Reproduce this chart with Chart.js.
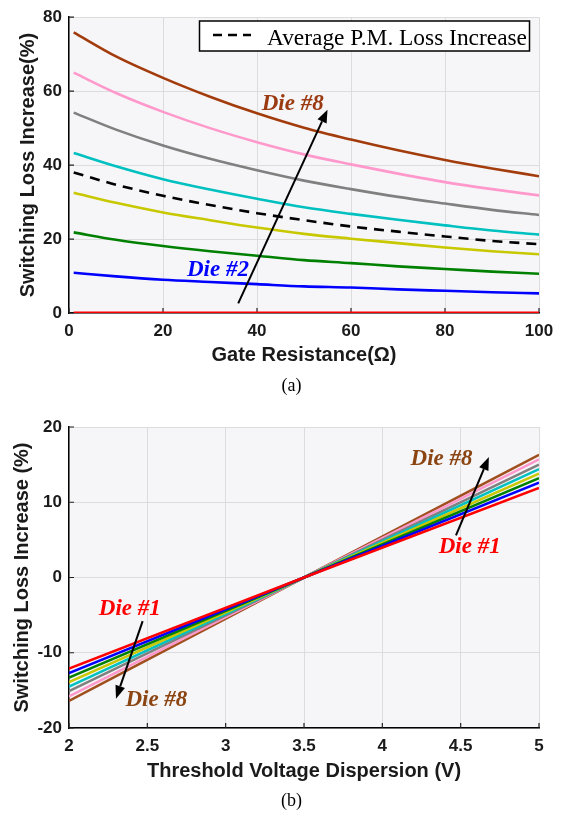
<!DOCTYPE html>
<html>
<head>
<meta charset="utf-8">
<script src="https://cdn.jsdelivr.net/npm/chart.js@4.4.0/dist/chart.umd.min.js"></script>
<style>
  body { margin: 0; background: #fff; width: 563px; height: 814px; position: relative; overflow: hidden; }
  .caja { position: absolute; left: 0; width: 563px; }
  #cajaA { top: 0; height: 400px; }
  #cajaB { top: 405px; height: 409px; }
  .pie { position: absolute; left: 0; width: 583px; text-align: center; line-height: 20px;
         font-family: "Liberation Serif", "Times New Roman", serif; font-size: 18px; color: #000; }
</style>
</head>
<body>
<div class="caja" id="cajaA"><canvas id="graficoResistencia"></canvas></div>
<div class="pie" style="top:375px">(a)</div>
<div class="caja" id="cajaB"><canvas id="graficoUmbral"></canvas></div>
<div class="pie" style="top:790px">(b)</div>
<script>
// (a) aumento de perdidas vs resistencia de puerta
const resistencia = [1, 10, 20, 30, 40, 50, 60, 70, 80, 90, 100];
const dado1 = [0, 0, 0, 0, 0, 0, 0, 0, 0, 0, 0];
const dado2 = [10.9, 9.9, 9.0, 8.4, 7.8, 7.2, 6.9, 6.4, 6.0, 5.6, 5.3];
const dado3 = [21.8, 19.8, 18.1, 16.7, 15.5, 14.3, 13.5, 12.6, 11.9, 11.2, 10.6];
const dado4 = [32.5, 29.8, 27.2, 25.1, 23.1, 21.4, 20.1, 18.9, 17.7, 16.7, 15.9];
const dado5 = [43.3, 39.7, 36.2, 33.4, 30.9, 28.6, 26.8, 25.2, 23.7, 22.3, 21.2];
const dado6 = [54.2, 49.6, 45.3, 41.7, 38.6, 35.8, 33.5, 31.4, 29.6, 27.9, 26.5];
const dado7 = [65.0, 59.5, 54.4, 50.0, 46.2, 42.9, 40.2, 37.7, 35.4, 33.5, 31.8];
const dado8 = [75.9, 69.4, 63.6, 58.5, 54.0, 50.1, 46.9, 44.0, 41.4, 39.1, 37.0];
const promedioPM = [38.0, 34.7, 31.7, 29.2, 27.0, 25.1, 23.4, 22.0, 20.7, 19.5, 18.6];
const ticksResistencia = [0, 20, 40, 60, 80, 100];
const ticksPerdidaA = [0, 20, 40, 60, 80];

// (b) aumento de perdidas vs dispersion de la tension umbral
const tensionUmbral = [2, 3.5, 5];
const umbral1 = [-12.1, 0, 11.9];
const umbral2 = [-12.7, 0, 12.6];
const umbral3 = [-13.3, 0, 13.2];
const umbral4 = [-13.9, 0, 13.8];
const umbral5 = [-14.5, 0, 14.4];
const umbral6 = [-15.1, 0, 15.0];
const umbral7 = [-15.8, 0, 15.7];
const umbral8 = [-16.4, 0, 16.3];
const ticksUmbral = [2, 2.5, 3, 3.5, 4, 4.5, 5];
const ticksPerdidaB = [-20, -10, 0, 10, 20];

const coloresA = ["#ff0000", "#0000ff", "#008000", "#c8c800", "#00c0c0", "#808080", "#ff99cc", "#a33c0c"];
const coloresB = ["#ff0000", "#0000ff", "#008000", "#c8c800", "#00c0c0", "#808080", "#ff99cc", "#a0501e"];

const fuenteEje = '"Liberation Sans", Arial, sans-serif';
const fuenteSerif = '"Liberation Serif", "Times New Roman", serif';

function puntos(xs, ys) {
  return ys.map((y, i) => ({ x: xs[i], y: y }));
}

function dibujarFlecha(ctx, x1, y1, x2, y2) {
  const ang = Math.atan2(y2 - y1, x2 - x1);
  const largo = 13, ancho = 5;
  ctx.strokeStyle = "#000";
  ctx.fillStyle = "#000";
  ctx.lineWidth = 2;
  ctx.setLineDash([]);
  ctx.beginPath();
  ctx.moveTo(x1, y1);
  ctx.lineTo(x2 - largo * Math.cos(ang), y2 - largo * Math.sin(ang));
  ctx.stroke();
  ctx.beginPath();
  ctx.moveTo(x2, y2);
  ctx.lineTo(x2 - largo * Math.cos(ang) + ancho * Math.sin(ang), y2 - largo * Math.sin(ang) - ancho * Math.cos(ang));
  ctx.lineTo(x2 - largo * Math.cos(ang) - ancho * Math.sin(ang), y2 - largo * Math.sin(ang) + ancho * Math.cos(ang));
  ctx.closePath();
  ctx.fill();
}

// fondo gris del area de trazado
const fondoPlugin = {
  id: "fondo",
  beforeDraw(chart) {
    const a = chart.chartArea;
    chart.ctx.save();
    chart.ctx.fillStyle = "#f6f6f8";
    chart.ctx.fillRect(a.left, a.top, a.right - a.left, a.bottom - a.top);
    chart.ctx.restore();
  }
};

// marcas cortas hacia dentro en los ejes izquierdo e inferior
const marcasPlugin = {
  id: "marcas",
  beforeDatasetsDraw(chart) {
    const ctx = chart.ctx, a = chart.chartArea;
    const sx = chart.scales.x, sy = chart.scales.y;
    ctx.save();
    ctx.strokeStyle = "#222";
    ctx.lineWidth = 1.2;
    ctx.beginPath();
    sx.ticks.forEach(t => {
      const px = sx.getPixelForValue(t.value);
      ctx.moveTo(px, a.bottom);
      ctx.lineTo(px, a.bottom - 5);
    });
    sy.ticks.forEach(t => {
      const py = sy.getPixelForValue(t.value);
      ctx.moveTo(a.left, py);
      ctx.lineTo(a.left + 5, py);
    });
    ctx.stroke();
    ctx.restore();
  }
};

// textos "Die #n" y flechas, en unidades de los ejes
function notasPlugin(notas, flechas) {
  return {
    id: "notas",
    afterDatasetsDraw(chart) {
      const ctx = chart.ctx;
      const sx = chart.scales.x, sy = chart.scales.y;
      ctx.save();
      flechas.forEach(f => {
        dibujarFlecha(ctx, sx.getPixelForValue(f.desde[0]), sy.getPixelForValue(f.desde[1]),
          sx.getPixelForValue(f.hasta[0]), sy.getPixelForValue(f.hasta[1]));
      });
      ctx.font = "italic bold 23px " + fuenteSerif;
      ctx.textBaseline = "middle";
      ctx.textAlign = "left";
      notas.forEach(n => {
        ctx.fillStyle = n.color;
        ctx.fillText(n.texto, sx.getPixelForValue(n.x), sy.getPixelForValue(n.y));
      });
      ctx.restore();
    }
  };
}

// recuadro de leyenda solo para la linea discontinua
const leyendaPlugin = {
  id: "leyendaPromedio",
  afterDraw(chart) {
    const ctx = chart.ctx;
    ctx.save();
    ctx.fillStyle = "#fff";
    ctx.fillRect(199.5, 21, 330, 30);
    ctx.strokeStyle = "#000";
    ctx.lineWidth = 1.5;
    ctx.strokeRect(199.5, 21, 330, 30);
    ctx.setLineDash([9, 6]);
    ctx.lineWidth = 2.5;
    ctx.beginPath();
    ctx.moveTo(213, 35);
    ctx.lineTo(251, 35);
    ctx.stroke();
    ctx.fillStyle = "#000";
    ctx.font = "24px " + fuenteSerif;
    ctx.textBaseline = "alphabetic";
    ctx.fillText("Average P.M. Loss Increase", 267, 45, 260);
    ctx.restore();
  }
};

function eje(ticks, titulo, esX, alto, padTitulo) {
  return {
    type: "linear",
    min: ticks[0],
    max: ticks[ticks.length - 1],
    afterBuildTicks: s => { s.ticks = ticks.map(v => ({ value: v })); },
    afterFit: s => { if (esX) { s.height = alto; } else { s.width = alto; } },
    grid: { color: "#dcdcdc", lineWidth: 1, tickLength: 0 },
    border: { color: "#000", width: 1.5 },
    ticks: {
      color: "#1a1a1a",
      padding: esX ? 8 : 7,
      font: { family: fuenteEje, size: 17, weight: "bold" },
      callback: v => String(v)
    },
    title: {
      display: true,
      text: titulo,
      color: "#1a1a1a",
      font: { family: fuenteEje, size: 20, weight: "bold" },
      padding: esX ? { bottom: padTitulo } : { top: padTitulo }
    }
  };
}

function serie(xs, ys, color, curva) {
  return {
    data: puntos(xs, ys),
    borderColor: color,
    borderWidth: 2.6,
    pointRadius: 0,
    fill: false,
    cubicInterpolationMode: curva ? "monotone" : "default",
    tension: 0
  };
}

const seriesA = [dado1, dado2, dado3, dado4, dado5, dado6, dado7, dado8];
const datasetsA = seriesA.map((d, i) => serie(resistencia, d, coloresA[i], true));
datasetsA[0].borderWidth = 3;
const lineaPromedio = serie(resistencia, promedioPM, "#000", true);
lineaPromedio.borderDash = [10, 7];
datasetsA.splice(1, 0, lineaPromedio);

new Chart(document.getElementById("graficoResistencia"), {
  type: "line",
  data: { datasets: datasetsA },
  options: {
    responsive: true,
    maintainAspectRatio: false,
    animation: false,
    layout: { padding: { left: 0, right: 24, top: 11, bottom: 0 } },
    plugins: { legend: { display: false }, tooltip: { enabled: false } },
    scales: {
      x: eje(ticksResistencia, "Gate Resistance(\u03A9)", true, 87, 33),
      y: eje(ticksPerdidaA, "Switching Loss Increase(%)", false, 69, 16)
    }
  },
  plugins: [
    fondoPlugin,
    marcasPlugin,
    notasPlugin(
      [{ texto: "Die #8", x: 41, y: 56.6, color: "#9b3a10" },
       { texto: "Die #2", x: 25.1, y: 11.5, color: "#0000ff" }],
      [{ desde: [36, 2.6], hasta: [55, 55] }]
    ),
    leyendaPlugin
  ]
});

const seriesB = [umbral1, umbral2, umbral3, umbral4, umbral5, umbral6, umbral7, umbral8];

new Chart(document.getElementById("graficoUmbral"), {
  type: "line",
  data: { datasets: seriesB.map((d, i) => serie(tensionUmbral, d, coloresB[i], false)) },
  options: {
    responsive: true,
    maintainAspectRatio: false,
    animation: false,
    layout: { padding: { left: 0, right: 24, top: 22, bottom: 0 } },
    plugins: { legend: { display: false }, tooltip: { enabled: false } },
    scales: {
      x: eje(ticksUmbral, "Threshold Voltage Dispersion (V)", true, 86, 31),
      y: eje(ticksPerdidaB, "Switching Loss Increase (%)", false, 69, 10.5)
    }
  },
  plugins: [
    fondoPlugin,
    marcasPlugin,
    notasPlugin(
      [{ texto: "Die #8", x: 4.18, y: 15.8, color: "#8b4513" },
       { texto: "Die #1", x: 4.36, y: 4.1, color: "#ff0000" },
       { texto: "Die #1", x: 2.19, y: -4.25, color: "#ff0000" },
       { texto: "Die #8", x: 2.36, y: -16.3, color: "#8b4513" }],
      [{ desde: [4.47, 5.6], hasta: [4.68, 16.0] },
       { desde: [2.47, -5.8], hasta: [2.30, -16.1] }]
    )
  ]
});
</script>
</body>
</html>
